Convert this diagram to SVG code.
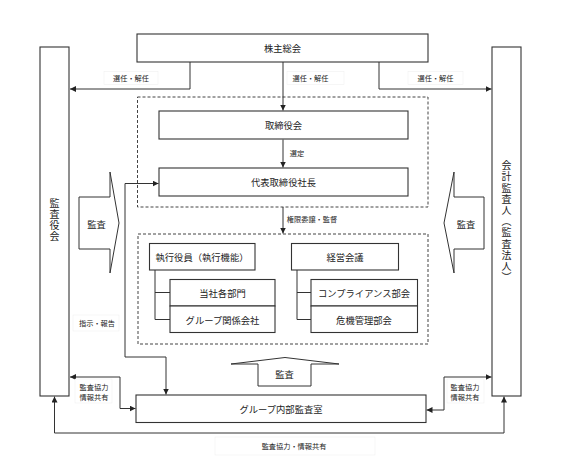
<svg xmlns="http://www.w3.org/2000/svg" width="567" height="470" viewBox="0 0 567 470">
<defs>
<style>
.box{fill:#fff;stroke:#333;stroke-width:1.1}
.dash{fill:none;stroke:#444;stroke-width:1;stroke-dasharray:3,2}
.ln{fill:none;stroke:#333;stroke-width:1}
.t{font-family:"Noto Sans CJK JP","Noto Sans",sans-serif;fill:#222;text-anchor:middle;dominant-baseline:central}
.m{font-size:9.3px}
.s{font-size:7.2px}
.v{font-size:10px;writing-mode:vertical-rl;letter-spacing:1.2px}
.lb{fill:#fff;stroke:#f0f0f0;stroke-width:0.6}
.big{fill:#fff;stroke:#333;stroke-width:1}
</style>
<marker id="ah" viewBox="0 0 6 6" refX="6" refY="3" markerWidth="6" markerHeight="6" markerUnits="userSpaceOnUse" orient="auto-start-reverse">
<path d="M0,0 L6,3 L0,6 z" fill="#222"/>
</marker>
</defs>
<rect width="567" height="470" fill="#fff"/>

<g id="frames">
<rect class="dash" x="137.5" y="97" width="290.5" height="110"/>
<rect class="dash" x="138" y="234" width="290" height="110"/>
</g>

<g id="connectors">
<path class="ln" d="M190,62 V89 H70" marker-end="url(#ah)"/>
<path class="ln" d="M283,62 V110.5" marker-end="url(#ah)"/>
<path class="ln" d="M379,62 V89 H491.5" marker-end="url(#ah)"/>
<path class="ln" d="M283,139.5 V167.5" marker-end="url(#ah)"/>
<path class="ln" d="M283,207 V233.5" marker-end="url(#ah)"/>
<path class="ln" d="M158.5,183.5 H125 V357 H166 V394.5" marker-start="url(#ah)" marker-end="url(#ah)"/>
<path class="ln" d="M70,377 H120 V408.5 H135.5" marker-start="url(#ah)" marker-end="url(#ah)"/>
<path class="ln" d="M491.5,377 H444 V410 H426.5" marker-start="url(#ah)" marker-end="url(#ah)"/>
<path class="ln" d="M54.5,396.5 V433 H504 V396.5" marker-start="url(#ah)" marker-end="url(#ah)"/>
<path class="ln" d="M155,270 V319.5 H170 M155,292.5 H170"/>
<path class="ln" d="M297,270 V319.5 H311 M297,292.5 H311"/>
</g>

<g id="labels">
<rect class="lb" x="104" y="71.5" width="54" height="13"/>
<text class="t s" x="131" y="78">選任・解任</text>
<rect class="lb" x="287" y="71.5" width="57" height="13"/>
<text class="t s" x="310.5" y="78">選任・解任</text>
<rect class="lb" x="408" y="71.5" width="55" height="13"/>
<text class="t s" x="435.5" y="78">選任・解任</text>
<text class="t s" x="297" y="152.5">選定</text>
<text class="t s" x="312" y="219">権限委譲・監督</text>
<rect class="lb" x="73" y="315" width="46" height="16"/>
<text class="t s" x="97" y="323">指示・報告</text>
<rect class="lb" x="75" y="379" width="37" height="24"/>
<text class="t s" x="94" y="386.5">監査協力</text>
<text class="t s" x="94" y="397">情報共有</text>
<rect class="lb" x="447" y="379" width="37" height="24"/>
<text class="t s" x="465" y="386.5">監査協力</text>
<text class="t s" x="465" y="397">情報共有</text>
<rect class="lb" x="215" y="437" width="160" height="18"/>
<text class="t s" x="294" y="446">監査協力・情報共有</text>
</g>

<g id="kabunushi">
<rect class="box" x="137" y="34" width="291" height="28"/>
<text class="t m" x="282.5" y="48">株主総会</text>
</g>
<g id="kansayakukai">
<rect class="box" x="40" y="47" width="29" height="349"/>
<text class="t v" x="54.5" y="220.5">監査役会</text>
</g>
<g id="kaikeikansanin">
<rect class="box" x="492" y="47" width="29" height="349"/>
<text class="t v" x="506.5" y="222">会計監査人（監査法人）</text>
</g>
<g id="torishimariyakukai">
<rect class="box" x="159" y="111" width="249" height="28"/>
<text class="t m" x="283.5" y="125">取締役会</text>
</g>
<g id="daihyo">
<rect class="box" x="159" y="168" width="249" height="28"/>
<text class="t m" x="283.5" y="182">代表取締役社長</text>
</g>
<g id="shikkoyakuin">
<rect class="box" x="149.5" y="243.5" width="105.5" height="26.5"/>
<text class="t m" x="202" y="257">執行役員（執行機能）</text>
</g>
<g id="keieikaigi">
<rect class="box" x="291.5" y="243.5" width="107" height="26.5"/>
<text class="t m" x="345" y="257">経営会議</text>
</g>
<g id="toshakakubumon">
<rect class="box" x="170" y="279.5" width="105" height="26.5"/>
<text class="t m" x="222.5" y="293">当社各部門</text>
</g>
<g id="group-kankei">
<rect class="box" x="170" y="306" width="105" height="26.5"/>
<text class="t m" x="222.5" y="319.5">グループ関係会社</text>
</g>
<g id="compliance">
<rect class="box" x="311" y="279.5" width="106.5" height="26.5"/>
<text class="t m" x="364" y="293">コンプライアンス部会</text>
</g>
<g id="kiki">
<rect class="box" x="311" y="306" width="106.5" height="26.5"/>
<text class="t m" x="364" y="319.5">危機管理部会</text>
</g>
<g id="naibukansa">
<rect class="box" x="136" y="395" width="290" height="27.5"/>
<text class="t m" x="281" y="409">グループ内部監査室</text>
</g>

<g id="kansa-left">
<polygon class="big" points="79,197 110,197 110,172 119,223 110,273 110,249 79,249"/>
<text class="t m" x="96.5" y="224">監査</text>
</g>
<g id="kansa-right">
<polygon class="big" points="484,197 454,197 454,172 444,223 454,273 454,249 484,249"/>
<text class="t m" x="466" y="224">監査</text>
</g>
<g id="kansa-bottom">
<polygon class="big" points="258,386 258,364 231,364 285,357.5 339,364 311,364 311,386"/>
<text class="t m" x="284.5" y="373.5">監査</text>
</g>
</svg>
